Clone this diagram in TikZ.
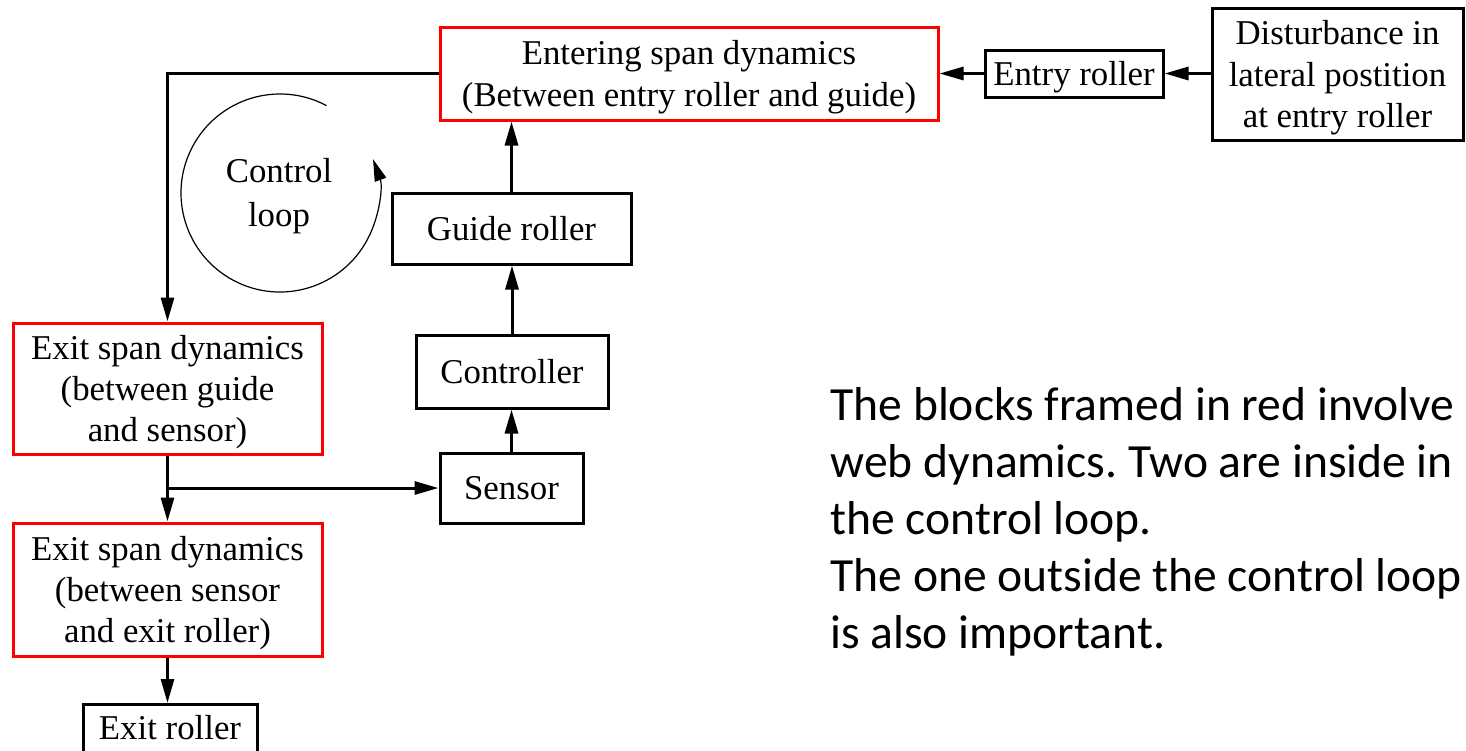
\documentclass[tikz,border=0pt]{standalone}
\usepackage{fontspec}
\setmainfont{Liberation Serif}
\newfontfamily\calfont{Carlito}
\usetikzlibrary{arrows.meta}
\frenchspacing
\begin{document}
\begin{tikzpicture}[x=0.5pt,y=-0.5pt,
  blk/.style={draw=black, line width=1.5pt, inner sep=0pt, align=center, text depth=0pt,
    font=\fontsize{17.4}{20.6}\selectfont},
  redblk/.style={blk, draw=red},
  conn/.style={line width=1.5pt, -{Triangle[length=12pt,width=6.5pt]}},
  ]
\useasboundingbox (0,0) rectangle (1466,750);
\fill[white] (0,0) rectangle (1466,750);

\node[redblk, minimum width=249pt, minimum height=46.5pt] (ent) at (689,73.5)
  {Entering span dynamics\\(Between entry roller and guide)};
\node[blk, minimum width=89pt, minimum height=23.5pt] (entry) at (1074,73.5) {Entry roller};
\node[blk, minimum width=125.5pt, minimum height=66pt] (dist) at (1337.5,74)
  {Disturbance in\\lateral postition\\at entry roller};
\node[blk, minimum width=119.5pt, minimum height=35.5pt] (guide) at (511.5,228.5) {Guide roller};
\node[blk, minimum width=96pt, minimum height=36.5pt] (ctrl) at (512,371.5) {Controller};
\node[blk, minimum width=71.5pt, minimum height=35pt] (sens) at (511.5,488) {Sensor};
\node[redblk, minimum width=154.5pt, minimum height=65.5pt] (ex1) at (167.5,388.5)
  {Exit span dynamics\\(between guide\\and sensor)};
\node[redblk, minimum width=154.5pt, minimum height=66.5pt] (ex2) at (167.5,589.5)
  {Exit span dynamics\\(between sensor\\and exit roller)};
\node[blk, minimum width=87pt, minimum height=32pt, anchor=north] (exr) at (170,703)
  {\raisebox{4.5pt}[\height][\depth]{Exit roller}};

\draw[conn] (dist.west |- entry.east) -- (entry.east);
\draw[conn] (entry.west) -- (ent.east);
\draw[conn] (guide.north) -- (guide.north |- ent.south);
\draw[conn] (ctrl.north) -- (ctrl.north |- guide.south);
\draw[conn] (sens.north) -- (sens.north |- ctrl.south);
\draw[conn] (ent.west) -| (ex1.north);
\draw[conn] (ex1.south) -- (ex2.north);
\coordinate (br) at (ex1.south |- sens.west);
\draw[conn] (br) -- (sens.west);
\draw[conn] (ex2.south) -- (ex2.south |- exr.north);

\coordinate (cc) at (280,193);
\draw[line width=0.6pt, -{Triangle[length=11pt,width=6pt]}]
  (cc) ++(62:49.5pt) arc[start angle=62, end angle=380, radius=49.5pt];
\node[font=\fontsize{17.4}{22}\selectfont, align=center, inner sep=0pt] (cl) at (279,196) {Control\\loop};

\node[anchor=base west, align=left, inner sep=0pt,
  font=\calfont\fontsize{23.8}{28.5}\selectfont] (note) at (830,648)
  {The blocks framed in red involve\\web dynamics. Two are inside in\\the control loop.\\The one outside the control loop\\is also important.};
\end{tikzpicture}
\end{document}
